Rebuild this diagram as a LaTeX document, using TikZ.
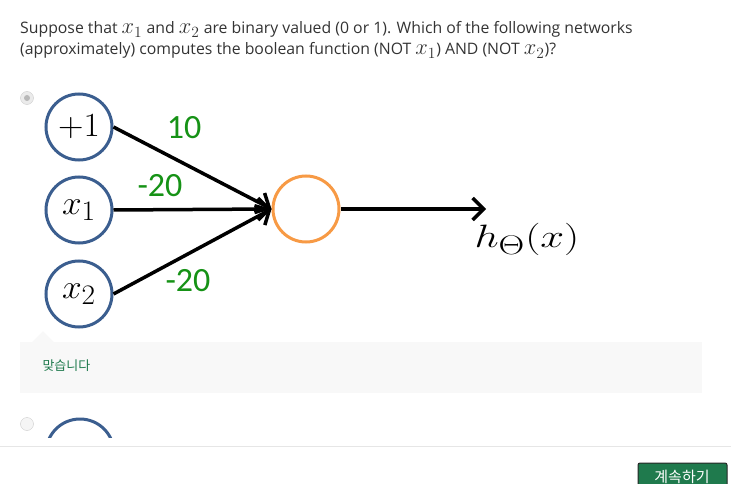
\documentclass[tikz,border=0pt]{standalone}
\usepackage[no-math]{fontspec}
\setmainfont{Open Sans}
\newfontfamily\slidefont{Carlito}
\newfontfamily\krfont{Noto Sans CJK KR}
\usetikzlibrary{arrows.meta}
\definecolor{unitblue}{HTML}{3B5E8F}
\definecolor{outorange}{HTML}{F79A45}
\definecolor{weightgreen}{HTML}{169216}
\definecolor{okgreen}{HTML}{1F7A4D}
\definecolor{boxgray}{HTML}{F8F8F8}
\definecolor{linegray}{HTML}{E6E6E6}
\definecolor{textgray}{HTML}{333333}
% math only goes up to 24.88pt, so blow it up
\newcommand{\unitmath}[1]{\scalebox{1.42}[1.36]{$#1$}}
\newcommand{\qmath}[1]{\scalebox{1.3}{\LARGE$#1$}}

\tikzset{
  unit/.style={circle,draw=unitblue,line width=3pt,minimum size=66pt,inner sep=0pt,font=\Huge},
  outunit/.style={circle,draw=outorange,line width=3pt,minimum size=66pt,inner sep=0pt},
  weight/.style={text=weightgreen,font=\slidefont\fontsize{34}{34}\selectfont,inner sep=0pt},
  wire/.style={line width=3.5pt,-{Straight Barb[length=11pt,width=22pt]}},
  question/.style={anchor=base west,text=textgray,font=\fontsize{15.8}{18}\selectfont,inner sep=0pt},
}

\begin{document}
\begin{tikzpicture}[x=1pt,y=-1pt]
  \useasboundingbox (0,0) rectangle (731,484);

  % question
  \node[question] (q1) at (20,34) {Suppose that \qmath{x_1} and \qmath{x_2} are binary valued (0 or 1). Which of the following networks};
  \node[question] (q2) at (20,55) {(approximately) computes the boolean function (NOT \qmath{x_1}) AND (NOT \qmath{x_2})?};

  % selected answer
  \filldraw[draw=black!20,fill=black!8] (27,98) circle (6.5pt);
  \fill[black!28] (27,98) circle (3pt);

  \node[unit] (one) at (79,127) {\unitmath{+1}};
  \node[unit] (xa) at (79,210) {\unitmath{x_1}};
  \node[unit] (xb) at (79,294) {\unitmath{x_2}};
  \node[outunit] (out) at (306,209) {};
  \coordinate (end) at (486,209);

  \draw[wire] (one.east) -- (out.west);
  \draw[wire] (xa.east) -- (out.west);
  \draw[wire] (xb.east) -- (out.west);
  \draw[wire] (out.east) -- (end);

  \node[weight] (w0) at (184,128) {10};
  \node[weight] (w1) at (160,186) {-20};
  \node[weight] (w2) at (188,281) {-20};
  \node[font=\Huge] (h) at (527,239) {\scalebox{1.72}[1.3]{$h_\Theta(x)$}};

  % feedback
  \fill[boxgray] (20,342) rectangle (702,393);
  \fill[boxgray] (32,342) -- (43,331) -- (54,342) -- cycle;
  \node[anchor=west,text=okgreen,font=\krfont\fontsize{13}{13}\selectfont] (ok) at (39,366) {맞습니다};

  % next answer, cut off
  \filldraw[draw=black!20,fill=black!4] (27,424) circle (6.5pt);
  \begin{scope}
    \clip (0,400) rectangle (731,437);
    \draw[unitblue,line width=3pt] (80,453) circle (34pt);
  \end{scope}

  \draw[linegray,line width=1pt] (0,446) -- (731,446);
  \filldraw[draw=black!85,fill=okgreen,line width=1pt,rounded corners=2pt] (638,463) rectangle (727,492);
  \node[text=white,font=\krfont\fontsize{15}{15}\selectfont] (next) at (682,477) {계속하기};
\end{tikzpicture}
\end{document}
